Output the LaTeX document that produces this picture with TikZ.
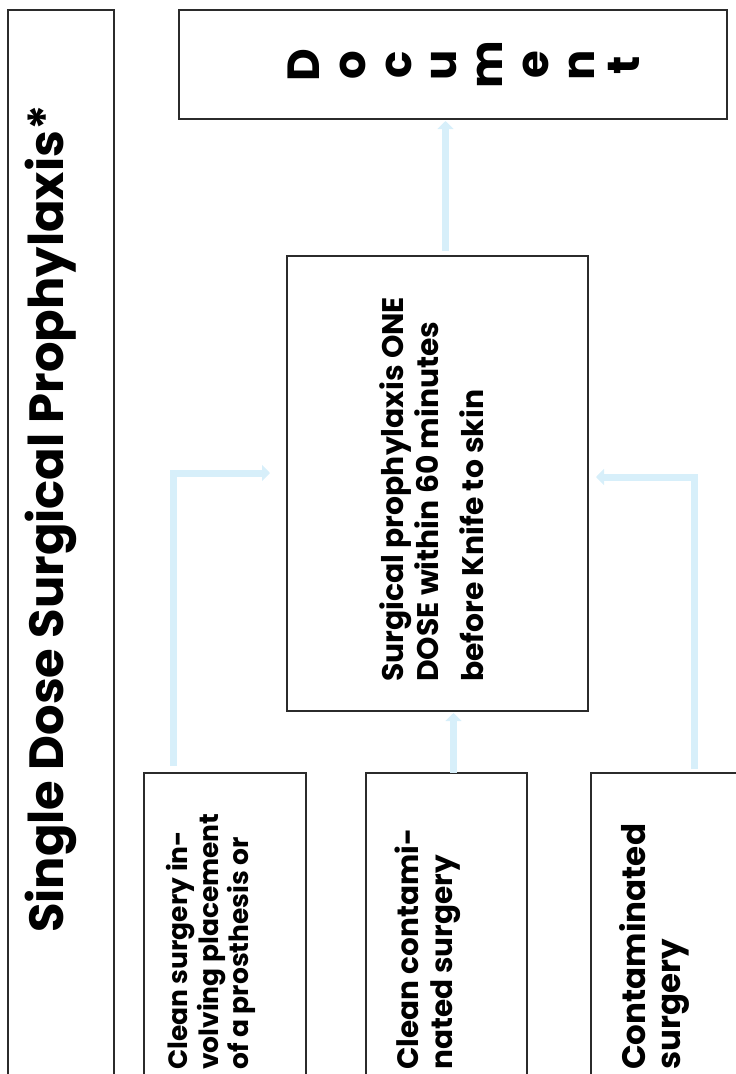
\documentclass[tikz,border=0pt]{standalone}
\usepackage{fontspec}
\setmainfont{Poppins}
\usetikzlibrary{arrows.meta,calc}
\definecolor{flowblue}{HTML}{D7EFFA}
\definecolor{boxline}{HTML}{2B2B2B}
\begin{document}
\begin{tikzpicture}[x=1pt,y=-1pt,
  box/.style={draw=boxline, line width=1.2pt, inner sep=0pt, outer sep=0pt},
  lbl/.style={rotate=90, anchor=base west, inner sep=0pt},
  flow/.style={draw=flowblue, line width=7pt, -{Triangle[length=8pt,width=16pt]}}]
\useasboundingbox (0,0) rectangle (736,1074);
\clip (0,0) rectangle (736,1074);
% boxes
\node[box, minimum width=106pt, minimum height=1090pt] (title) at (61,555) {};
\node[box, minimum width=548pt, minimum height=109pt] (doc) at (453,64.5) {};
\node[box, minimum width=301pt, minimum height=455pt] (ctr) at (437.5,483.5) {};
\node[box, minimum width=162pt, minimum height=320pt] (boxA) at (225,933) {};
\node[box, minimum width=161pt, minimum height=320pt] (boxB) at (446.5,933) {};
\node[box, minimum width=180pt, minimum height=320pt] (boxC) at (681,933) {};
% texts
\node[lbl, font=\fontsize{48}{52}\selectfont\bfseries] (titletext) at (63,933) {Single Dose Surgical Prophylaxis*};
\node[rotate=90, align=center, inner sep=0pt, font=\fontsize{45}{45.7}\selectfont\bfseries] (doctext) at (464,65) {D\\o\\c\\u\\m\\e\\n\\t};
\node[lbl, font=\fontsize{29.8}{34}\selectfont\bfseries] (c1) at (403,682) {Surgical prophylaxis ONE};
\node[lbl, font=\fontsize{29.8}{34}\selectfont\bfseries] (c2) at (438,682) {DOSE within 60 minutes};
\node[lbl, font=\fontsize{29.8}{34}\selectfont\bfseries] (c3) at (483,682) {before Knife to skin};
\node[lbl, font=\fontsize{26.5}{30}\selectfont\bfseries] (a1) at (187,1070) {Clean surgery in-};
\node[lbl, font=\fontsize{26.5}{30}\selectfont\bfseries] (a2) at (218,1070) {volving placement};
\node[lbl, font=\fontsize{26.5}{30}\selectfont\bfseries] (a3) at (248,1070) {of a prosthesis or};
\node[lbl, font=\fontsize{29.5}{33}\selectfont\bfseries] (b1) at (418,1070) {Clean contami-};
\node[lbl, font=\fontsize{29.5}{33}\selectfont\bfseries] (b2) at (452,1070) {nated surgery};
\node[lbl, font=\fontsize{32.5}{36}\selectfont\bfseries] (cc1) at (645,1070) {Contaminated};
\node[lbl, font=\fontsize{32.5}{36}\selectfont\bfseries] (cc2) at (680,1070) {surgery};
% connectors
\draw[flow] ($(ctr.north)+(8,-5)$) -- ($(ctr.north |- doc.south)+(8,2)$);
\draw[flow] ($(boxB.north)+(7,0)$) -- ($(boxB.north |- ctr.south)+(7,2)$);
\draw[flow] ($(boxA.north)+(-52,-7)$) |- ($(ctr.west)+(-17,-10.5)$);
\draw[flow] ($(boxC.north)+(13,-4)$) |- ($(ctr.east)+(8,-6.5)$);
\end{tikzpicture}
\end{document}
